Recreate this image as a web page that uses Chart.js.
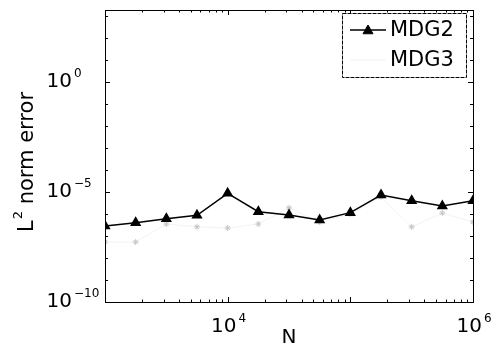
<!DOCTYPE html>
<html><head><meta charset="utf-8">
<script src="https://cdn.jsdelivr.net/npm/chart.js@4/dist/chart.umd.min.js"></script>
<style>html,body{margin:0;padding:0;background:#fff;}canvas{display:block;}</style>
</head><body>
<canvas id="c" width="495" height="361"></canvas>
<script>
// ---- data ----
const N = [1000, 1778, 3162, 5623, 10000, 17783, 31623, 56234, 100000, 177828, 316228, 562341, 1000000];
const mdg2 = [2.85e-7, 4.0e-7, 6.1e-7, 8.7e-7, 8.7e-6, 1.27e-6, 9.0e-7, 5.3e-7, 1.15e-6, 7.3e-6, 4.0e-6, 2.3e-6, 4.0e-6];
const mdg3 = [5.3e-8, 5.3e-8, 3.5e-7, 2.6e-7, 2.3e-7, 3.5e-7, 1.9e-6, 4.3e-7, 1.0e-6, 5.9e-6, 2.6e-7, 1.1e-6, 4.3e-7];
const seriesNames = ['MDG2', 'MDG3'];
const xTickExps = [4, 6];
const yTickExps = [-10, -5, 0];
const xTitle = 'N';
const yTitleBase = 'L';
const yTitleSup = '2';
const yTitleRest = ' norm error';

const FONT = '"DejaVu Sans", sans-serif';

function sup(ctx, base, exp, x, y, align, fs, efs) {
  ctx.font = fs + 'px ' + FONT;
  const bw = ctx.measureText(base).width;
  ctx.font = efs + 'px ' + FONT;
  const ew = ctx.measureText(exp).width;
  let x0;
  if (align === 'center') x0 = x - (bw + 2 + ew) / 2;
  else x0 = x - bw; // base right-aligned at x
  ctx.textAlign = 'left';
  ctx.textBaseline = 'middle';
  ctx.font = fs + 'px ' + FONT;
  ctx.fillText(base, x0, y);
  ctx.textBaseline = 'alphabetic';
  ctx.font = efs + 'px ' + FONT;
  ctx.fillText(exp, x0 + bw + 2, y - 5);
}

const decor = {
  id: 'decor',
  afterDraw(chart) {
    const ctx = chart.ctx, a = chart.chartArea;
    const xs = chart.scales.x, ys = chart.scales.y;
    ctx.save();
    ctx.fillStyle = '#000';
    ctx.strokeStyle = '#000';
    ctx.lineWidth = 1;
    // frame
    ctx.strokeRect(Math.round(a.left) + 0.5, Math.round(a.top) + 0.5, Math.round(a.right - a.left), Math.round(a.bottom - a.top));
    // y ticks (each decade), inward on both sides
    ctx.beginPath();
    for (let e = -10; e <= 3; e++) {
      const py = Math.round(ys.getPixelForValue(Math.pow(10, e))) + 0.5;
      if (py < a.top || py > a.bottom) continue;
      const len = (e % 5 === 0) ? 5 : 3;
      ctx.moveTo(a.left, py); ctx.lineTo(a.left + len, py);
      ctx.moveTo(a.right, py); ctx.lineTo(a.right - len, py);
    }
    // x ticks
    for (let e = 3; e <= 6; e++) {
      for (let m = 1; m <= 9; m++) {
        const v = m * Math.pow(10, e);
        if (v > 1e6) break;
        const px = Math.round(xs.getPixelForValue(v)) + 0.5;
        const len = m === 1 ? 5 : 2.5;
        ctx.moveTo(px, a.bottom); ctx.lineTo(px, a.bottom - len);
        ctx.moveTo(px, a.top); ctx.lineTo(px, a.top + len);
      }
    }
    ctx.stroke();
    // y tick labels
    yTickExps.forEach(e => {
      const py = ys.getPixelForValue(Math.pow(10, e));
      sup(ctx, '10', (e < 0 ? '\u2212' + (-e) : String(e)), 72, py, 'right', 20, 12);
    });
    // x tick labels
    xTickExps.forEach(e => {
      const px = xs.getPixelForValue(Math.pow(10, e));
      sup(ctx, '10', String(e), px + 1, 327, 'center', 20, 12);
    });
    // x title
    ctx.font = '20px ' + FONT;
    ctx.textAlign = 'center'; ctx.textBaseline = 'middle';
    ctx.fillText(xTitle, (a.left + a.right) / 2, 338);
    // y title rotated
    ctx.save();
    ctx.translate(33, 162);
    ctx.rotate(-Math.PI / 2);
    ctx.font = '21px ' + FONT;
    const w1 = ctx.measureText(yTitleBase).width;
    const w3 = ctx.measureText(yTitleRest).width;
    ctx.font = '13px ' + FONT;
    const w2 = ctx.measureText(yTitleSup).width;
    const tot = w1 + 1 + w2 + w3;
    let x0 = -tot / 2;
    ctx.textAlign = 'left'; ctx.textBaseline = 'alphabetic';
    ctx.font = '21px ' + FONT;
    ctx.fillText(yTitleBase, x0, 0);
    ctx.font = '13px ' + FONT;
    ctx.fillText(yTitleSup, x0 + w1 + 1, -11);
    ctx.font = '21px ' + FONT;
    ctx.fillText(yTitleRest, x0 + w1 + 1 + w2, 0);
    ctx.restore();
    // legend
    const lx = 342, ly = 13, lw = 124, lh = 64;
    ctx.fillStyle = '#fff';
    ctx.fillRect(lx, ly, lw, lh);
    ctx.strokeStyle = '#000';
    ctx.setLineDash([4, 1]);
    ctx.strokeRect(lx + 0.5, ly + 0.5, lw, lh);
    ctx.setLineDash([]);
    chart.data.datasets.forEach((ds, i) => {
      const cy = ly + 17 + i * 30;
      ctx.strokeStyle = ds.borderColor;
      ctx.lineWidth = ds.borderWidth;
      ctx.beginPath(); ctx.moveTo(350, cy); ctx.lineTo(386, cy); ctx.stroke();
      // marker
      ctx.fillStyle = ds.pointBackgroundColor;
      ctx.strokeStyle = ds.pointBorderColor;
      ctx.lineWidth = 1;
      if (ds.pointStyle === 'triangle') {
        const r = ds.pointRadius;
        ctx.beginPath();
        ctx.moveTo(368, cy - r); ctx.lineTo(368 + r, cy + r * 0.75); ctx.lineTo(368 - r, cy + r * 0.75); ctx.closePath();
        ctx.fill(); ctx.stroke();
      }
      ctx.fillStyle = '#000';
      ctx.font = '21px ' + FONT;
      ctx.textAlign = 'left'; ctx.textBaseline = 'middle';
      ctx.fillText(ds.label, 390, cy + 1);
    });
    ctx.restore();
  }
};

new Chart(document.getElementById('c'), {
  type: 'line',
  data: {
    datasets: [
      {
        label: seriesNames[0],
        data: N.map((n, i) => ({ x: n, y: mdg2[i] })),
        borderColor: '#000', borderWidth: 1.5,
        pointStyle: 'triangle', pointRadius: 5,
        pointBackgroundColor: '#000', pointBorderColor: '#000',
        tension: 0
      },
      {
        label: seriesNames[1],
        data: N.map((n, i) => ({ x: n, y: mdg3[i] })),
        borderColor: 'rgba(0,0,0,0.05)', borderWidth: 1,
        pointStyle: 'star', pointRadius: 3,
        pointBackgroundColor: 'rgba(0,0,0,0)', pointBorderColor: '#c4c4c4',
        tension: 0
      }
    ]
  },
  options: {
    responsive: false,
    animation: false,
    devicePixelRatio: 1,
    layout: { padding: { top: 10, right: 22, left: 0, bottom: 0 } },
    plugins: { legend: { display: false }, tooltip: { enabled: false } },
    scales: {
      x: {
        type: 'logarithmic', min: 1000, max: 1000000,
        grid: { display: false }, border: { display: false },
        ticks: { display: false },
        afterFit(s) { s.height = 59; }
      },
      y: {
        type: 'logarithmic', min: 1e-10, max: Math.pow(10, 3.27),
        grid: { display: false }, border: { display: false },
        ticks: { display: false },
        afterFit(s) { s.width = 105; }
      }
    }
  },
  plugins: [decor]
});
</script>
</body></html>
